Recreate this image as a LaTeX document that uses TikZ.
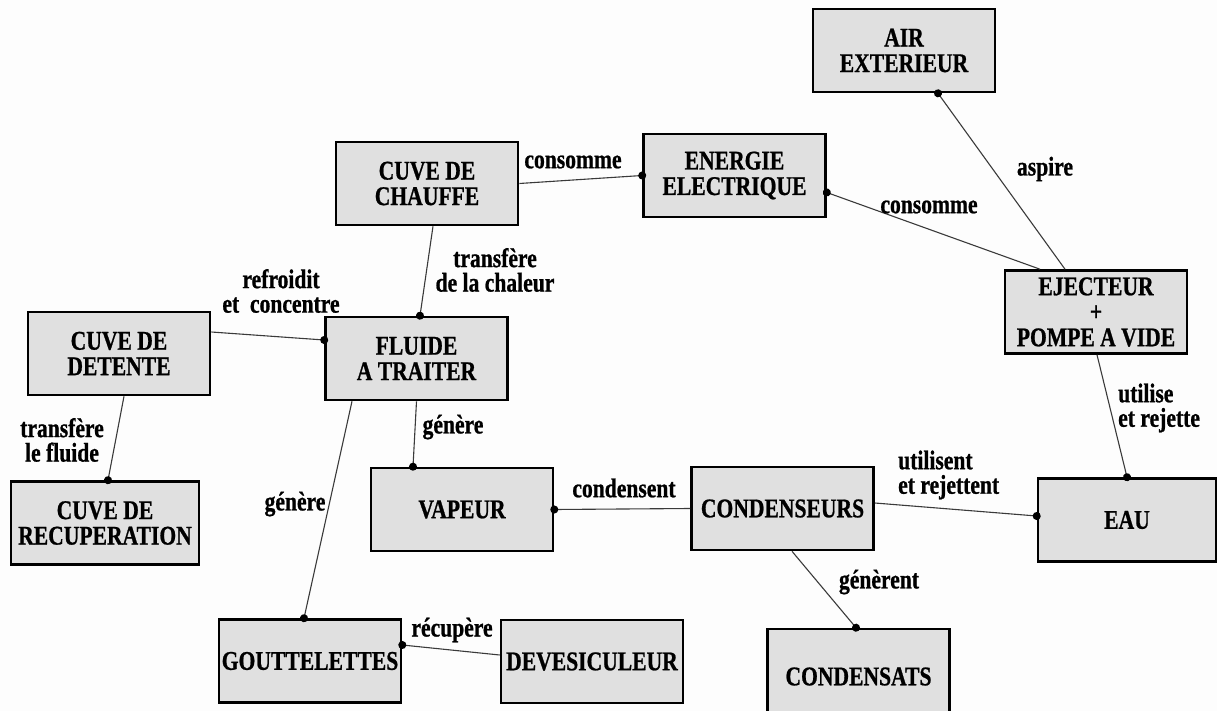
\documentclass[tikz,border=0pt]{standalone}
\usepackage{fontspec}
\setmainfont[FakeStretch=0.8, BoldFeatures={FakeBold=0.8}]{Liberation Serif}
\usetikzlibrary{arrows.meta,calc}
\definecolor{boxgray}{HTML}{E0E0E0}
\definecolor{wire}{HTML}{3A3A3A}
\definecolor{paper}{HTML}{FDFDFD}
\tikzset{
  font=\bfseries\fontsize{27}{25.5}\selectfont,
  entity/.style = {draw=black, fill=boxgray, line width=2.6pt, align=center,
                   minimum width=182pt, minimum height=83pt, inner sep=0pt},
  link/.style   = {draw=wire, line width=1.1pt},
  hook/.style   = {link, -{Circle[length=8pt,width=8pt,color=black]}, shorten >=-4pt},
  rel/.style    = {align=center, inner sep=0pt, text=black,
                   font=\bfseries\fontsize{27}{24.5}\selectfont},
}

\begin{document}
\begin{tikzpicture}[x=1pt, y=-1pt]
\fill[paper] (0,0) rectangle (1217,711);
\useasboundingbox (0,0) rectangle (1217,711);

% ---- top row ------------------------------------------------------------
\node[entity] at (904,50.5)    (air)     {AIR\\EXTERIEUR};
\node[entity] at (427,183.5)   (chauffe) {CUVE DE\\CHAUFFE};
\node[entity] at (734.5,175.5) (elec)    {ENERGIE\\ELECTRIQUE};
\node[entity] at (1096,312)    (eject)   {EJECTEUR\\+\\POMPE A VIDE};

% ---- middle -------------------------------------------------------------
\node[entity] at (119,353.5)   (detente) {CUVE DE\\DETENTE};
\node[entity] at (416.5,358.5) (fluide)  {FLUIDE\\A TRAITER};
\node[entity, minimum width=188pt] at (105,523) (recup) {CUVE DE\\RECUPERATION};
\node[entity] at (462,509.5)   (vapeur)  {VAPEUR};
\node[entity] at (782.5,508.5) (cond)    {CONDENSEURS};
\node[entity, minimum width=178pt] at (1127,520) (eau) {EAU};

% ---- bottom row ---------------------------------------------------------
\node[entity] at (310,661)     (gouttes) {GOUTTELETTES};
\node[entity] at (592,661.5)   (devesic) {DEVESICULEUR};
\node[entity, minimum height=95pt] at (858.5,676.5) (condsat) {CONDENSATS};

% ---- relations ----------------------------------------------------------
\draw[hook] (chauffe.east) -- (elec.west);
\node[rel] at (573,162) (r1) {consomme};

\draw[hook] ([xshift=-56pt]eject.north) -- ([yshift=-17pt]elec.east);
\node[rel] at (929,207) (r2) {consomme};

\draw[hook] ([xshift=-31pt]eject.north) -- ([xshift=34pt]air.south);
\node[rel] at (1045,169) (r3) {aspire};

\draw[hook] ([xshift=6pt]chauffe.south) -- ([xshift=3.5pt]fluide.north);
\node[rel] at (495,270) (r4) {transfère\\de la chaleur};

\draw[hook] ([yshift=21.5pt]detente.east) -- ([yshift=18.5pt]fluide.west);
\node[rel] at (281,291) (r5) {refroidit\\et~ concentre};

\draw[hook] ([xshift=5pt]detente.south) -- ([xshift=3pt]recup.north);
\node[rel] at (62,440) (r6) {transfère\\le fluide};

\draw[hook] ([xshift=-64.5pt]fluide.south) -- ([xshift=-6pt]gouttes.north);
\node[rel] at (295,504) (r7) {génère};

\draw[hook] (fluide.south) -- ([xshift=-49pt]vapeur.north);
\node[rel] at (453,427) (r8) {génère};

\draw[hook] (cond.west) -- (vapeur.east);
\node[rel] at (624,488) (r9) {condensent};

\draw[hook] ([yshift=5.5pt]cond.east) -- ([yshift=4pt]eau.west);
\node[rel, anchor=west, align=left] at (898,475) (r10) {utilisent\\et rejettent};

\draw[hook] ([xshift=1pt]eject.south) -- (eau.north);
\node[rel, anchor=west, align=left] at (1118,408) (r11) {utilise\\et rejette};

\draw[hook] ([xshift=9.5pt]cond.south) -- ([xshift=-2.5pt]condsat.north);
\node[rel] at (879,582) (r12) {génèrent};

\draw[hook] ([yshift=6.5pt]devesic.west) -- ([yshift=16pt]gouttes.east);
\node[rel] at (452,630) (r13) {récupère};

\end{tikzpicture}
\end{document}
